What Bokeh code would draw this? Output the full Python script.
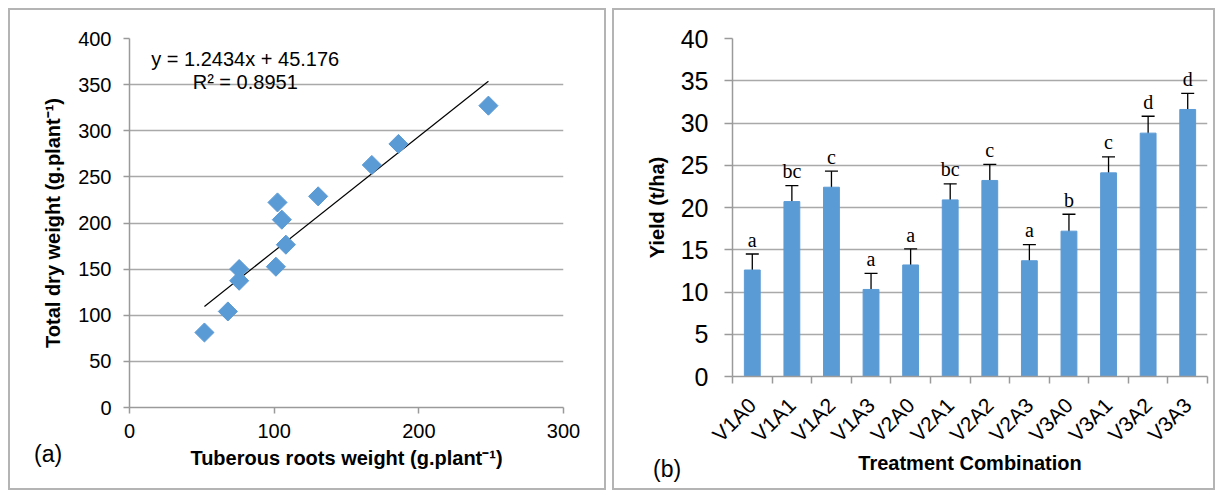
import math
from bokeh.plotting import figure
from bokeh.models import (Range1d, FixedTicker, ColumnDataSource, Whisker, TeeHead, Div)
from bokeh.core.properties import value
from bokeh.embed import file_html
from bokeh.resources import INLINE

# ---------------- data ----------------
root_weight = [51.8, 68.0, 75.8, 75.8, 101.2, 102.3, 105.3, 108.1, 130.4, 167.5, 185.9, 248.1]
dry_weight = [81.3, 104.1, 137.4, 150.1, 152.6, 222.3, 203.6, 176.5, 228.9, 262.9, 285.7, 327.2]
slope = 1.2434
intercept = 45.176
eq_text = "y = 1.2434x + 45.176"
r2_text = "R² = 0.8951"

treatments = ["V1A0", "V1A1", "V1A2", "V1A3", "V2A0", "V2A1",
              "V2A2", "V2A3", "V3A0", "V3A1", "V3A2", "V3A3"]
yield_vals = [12.6, 20.7, 22.4, 10.3, 13.2, 20.9, 23.2, 13.7, 17.2, 24.1, 28.8, 31.6]
yield_err = [1.9, 1.9, 1.9, 1.9, 1.9, 1.9, 1.9, 1.9, 2.0, 1.9, 2.0, 1.9]
letters = ["a", "bc", "c", "a", "a", "bc", "c", "a", "b", "c", "d", "d"]

BLUE = "#5b9bd5"
GRID = "#a9a9a9"
AXIS = "#9a9a9a"
FONT = "Liberation Sans"
BORDER = "2px solid #b4b4b4"

# ---------------- panel (a) ----------------
pa = figure(width=598, height=482, output_backend="svg", toolbar_location=None,
            x_range=Range1d(0, 300), y_range=Range1d(0, 400),
            min_border_left=119, min_border_right=45, min_border_top=28, min_border_bottom=85)
pa.styles = {"position": "absolute", "left": "8px", "top": "8px", "border": BORDER}
pa.outline_line_color = None

lx = [min(root_weight), max(root_weight)]
ly = [slope * v + intercept for v in lx]
pa.line(lx, ly, line_color="black", line_width=1.2)
pa.scatter(root_weight, dry_weight, marker="square", size=13.5, angle=math.pi / 4,
           fill_color=BLUE, line_color=BLUE)

pa.xaxis.ticker = FixedTicker(ticks=[0, 100, 200, 300])
pa.yaxis.ticker = FixedTicker(ticks=list(range(0, 401, 50)))
pa.xgrid.grid_line_color = None
pa.ygrid.grid_line_color = GRID
pa.ygrid.grid_line_width = 1.5
for ax in (pa.xaxis, pa.yaxis):
    ax.axis_line_color = AXIS
    ax.axis_line_width = 1.5
    ax.major_tick_line_color = AXIS
    ax.major_tick_line_width = 1.5
    ax.major_tick_in = 0
    ax.major_tick_out = 6
    ax.minor_tick_line_color = None
    ax.major_label_text_font = FONT
    ax.major_label_text_font_size = "20px"
    ax.major_label_text_color = "black"
    ax.axis_label_text_font = FONT
    ax.axis_label_text_font_size = "20px"
    ax.axis_label_text_font_style = "bold"
    ax.axis_label_text_color = "black"
pa.yaxis.major_label_standoff = 12
pa.yaxis.axis_label_standoff = 11
pa.xaxis.major_label_standoff = 10
pa.xaxis.axis_label_standoff = 6
pa.xaxis.axis_label = "Tuberous roots weight (g.plant⁻¹)"
pa.yaxis.axis_label = "Total dry weight (g.plant⁻¹)"

pa.text(x=[80, 80], y=[378, 352.5], text=[eq_text, r2_text], text_align="center",
        text_baseline="middle", text_font=value(FONT), text_font_size="20px",
        text_color="black")

# ---------------- panel (b) ----------------
n = len(treatments)
xs = [i + 0.5 for i in range(n)]
upper = [v + e for v, e in zip(yield_vals, yield_err)]
src = ColumnDataSource(dict(
    x=xs, y=yield_vals, upper=upper,
    lower=[v - e for v, e in zip(yield_vals, yield_err)],
    letter=letters, letter_y=[u + 1.7 for u in upper],
))

pb = figure(width=603, height=482, output_backend="svg", toolbar_location=None,
            x_range=Range1d(0, n), y_range=Range1d(0, 40),
            min_border_left=118, min_border_right=10, min_border_top=28, min_border_bottom=116)
pb.styles = {"position": "absolute", "left": "612px", "top": "8px", "border": BORDER}
pb.outline_line_color = None

pb.vbar(x="x", top="y", width=0.4, bottom=0, source=src, fill_color=BLUE, line_color=BLUE)
wh = Whisker(source=src, base="x", upper="upper", lower="lower",
             line_color="black", line_width=1.3,
             upper_head=TeeHead(size=13, line_color="black", line_width=1.3),
             lower_head=TeeHead(size=13, line_color="black", line_width=1.3))
pb.add_layout(wh)
pb.text(x="x", y="letter_y", text="letter", source=src, text_align="center",
        text_baseline="alphabetic", text_font=value("Liberation Serif"),
        text_font_size="20px", text_color="black")

pb.xaxis.ticker = FixedTicker(ticks=xs, minor_ticks=list(range(0, n + 1)))
pb.xaxis.major_label_overrides = {x: t for x, t in zip(xs, treatments)}
pb.xaxis.major_label_orientation = math.pi / 4
pb.yaxis.ticker = FixedTicker(ticks=list(range(0, 41, 5)))
pb.xgrid.grid_line_color = None
pb.ygrid.grid_line_color = GRID
pb.ygrid.grid_line_width = 1.5
for ax in (pb.xaxis, pb.yaxis):
    ax.axis_line_color = AXIS
    ax.axis_line_width = 1.5
    ax.major_tick_line_color = AXIS
    ax.major_tick_line_width = 1.5
    ax.major_label_text_font = FONT
    ax.major_label_text_color = "black"
    ax.axis_label_text_font = FONT
    ax.axis_label_text_font_size = "20px"
    ax.axis_label_text_font_style = "bold"
    ax.axis_label_text_color = "black"
pb.yaxis.major_tick_in = 0
pb.yaxis.major_tick_out = 8
pb.yaxis.minor_tick_line_color = None
pb.yaxis.major_label_text_font_size = "25px"
pb.yaxis.major_label_standoff = 16
pb.yaxis.axis_label_standoff = 10
pb.yaxis.axis_label = "Yield (t/ha)"

pb.xaxis.major_tick_in = 0
pb.xaxis.major_tick_out = 0
pb.xaxis.minor_tick_in = 0
pb.xaxis.minor_tick_out = 7
pb.xaxis.minor_tick_line_color = AXIS
pb.xaxis.minor_tick_line_width = 1.5
pb.xaxis.major_label_text_font_size = "21px"
pb.xaxis.major_label_standoff = 18
pb.xaxis.axis_label_standoff = -5
pb.xaxis.axis_label = "Treatment Combination"

# panel letters
lab_style = {"position": "absolute", "font-family": FONT, "font-size": "23px",
             "color": "black", "line-height": "26px"}
la = Div(text="(a)", width=40, height=26,
         styles=dict(lab_style, left="29px", top="436px"))
lb = Div(text="(b)", width=40, height=26,
         styles=dict(lab_style, left="648px", top="451px"))

open("out.html", "w").write(file_html([pa, pb, la, lb], INLINE))
